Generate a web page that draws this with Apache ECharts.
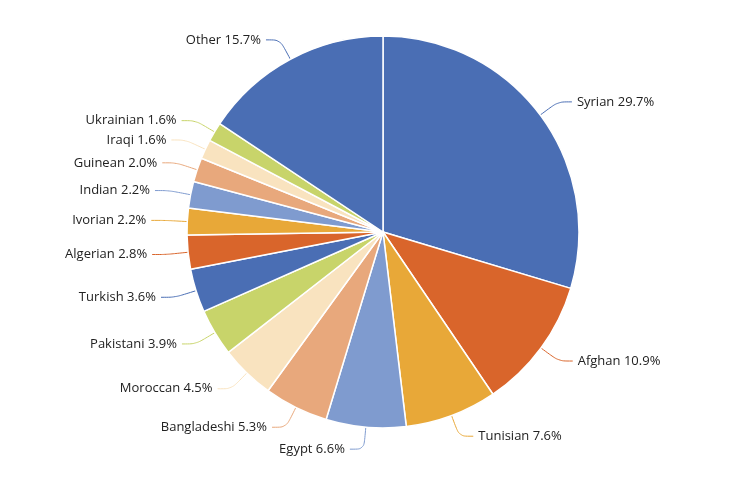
<!DOCTYPE html>
<html><head><meta charset="utf-8">
<script src="https://cdn.jsdelivr.net/npm/echarts@6/dist/echarts.min.js"></script>
<style>html,body{margin:0;background:#fff}#c{width:750px;height:500px}</style>
</head><body><div id="c"></div>
<script>
const categories=["Syrian","Afghan","Tunisian","Egypt","Bangladeshi","Moroccan","Pakistani","Turkish","Algerian","Ivorian","Indian","Guinean","Iraqi","Ukrainian","Other"];
const values=[29.7,10.9,7.6,6.6,5.3,4.5,3.9,3.6,2.8,2.2,2.2,2.0,1.6,1.6,15.7];
const palette=["#4a6eb4","#d9652b","#e8a838","#7f9bcf","#e8a87c","#f9e3bf","#c8d46a"];
const colors=categories.map((c,i)=>palette[i%7]);
const chart=echarts.init(document.getElementById('c'));
chart.setOption({
 animation:false,
 series:[{type:'pie',center:[383,232],radius:196,startAngle:90,clockwise:true,
  itemStyle:{borderColor:'#fff',borderWidth:1.5},
  label:{formatter:p=>p.name+' '+p.value.toFixed(1)+'%',color:'#222',fontSize:13,fontFamily:'Open Sans'},
  labelLine:{length:22,length2:14,smooth:0.3,lineStyle:{width:1}},
  data:categories.map((c,i)=>({name:c,value:values[i],itemStyle:{color:colors[i]},labelLine:{lineStyle:{color:colors[i]}}}))
 }]
});
</script></body></html>
